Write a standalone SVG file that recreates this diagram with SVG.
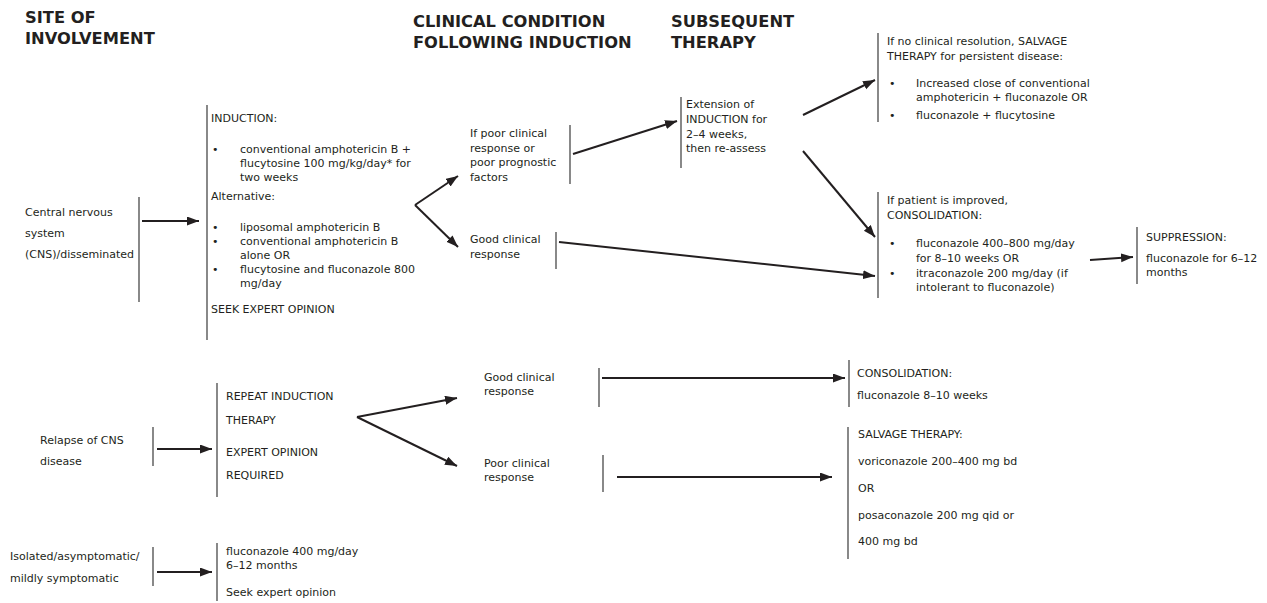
<svg xmlns="http://www.w3.org/2000/svg" width="1267" height="603" viewBox="0 0 1267 603">
<style>
  text { font-family: "DejaVu Sans", Verdana, sans-serif; font-size: 11px; fill: #231f20; }
  .hd { font-size: 16.3px; font-weight: bold; }
  .bar { stroke: #3a3a3a; stroke-width: 1.2; fill: none; }
  .arr { stroke: #231f20; stroke-width: 2; fill: none; marker-end: url(#ah); }
</style>
<defs>
  <marker id="ah" markerUnits="userSpaceOnUse" markerWidth="13" markerHeight="10" refX="12" refY="4.5" orient="auto">
    <path d="M0,0 L12,4.5 L0,9 z" fill="#231f20"/>
  </marker>
</defs>
<rect width="1267" height="603" fill="#ffffff"/>

<g id="headers">
  <text class="hd" x="25" y="23">SITE OF</text>
  <text class="hd" x="25" y="44">INVOLVEMENT</text>
  <text class="hd" x="413" y="27">CLINICAL CONDITION</text>
  <text class="hd" x="413" y="48">FOLLOWING INDUCTION</text>
  <text class="hd" x="671" y="27">SUBSEQUENT</text>
  <text class="hd" x="671" y="48">THERAPY</text>
</g>

<g id="cns">
  <text x="25" y="216">Central nervous</text>
  <text x="25" y="237">system</text>
  <text x="25" y="258">(CNS)/disseminated</text>
  <line class="bar" x1="139" y1="197" x2="139" y2="302"/>
</g>

<g id="induction">
  <line class="bar" x1="207" y1="105" x2="207" y2="340"/>
  <text x="211" y="122">INDUCTION:</text>
  <text x="212" y="153">•</text>
  <text x="240" y="153">conventional amphotericin B +</text>
  <text x="240" y="167">flucytosine 100 mg/kg/day* for</text>
  <text x="240" y="181">two weeks</text>
  <text x="211" y="200">Alternative:</text>
  <text x="212" y="231">•</text>
  <text x="240" y="231">liposomal amphotericin B</text>
  <text x="212" y="245">•</text>
  <text x="240" y="245">conventional amphotericin B</text>
  <text x="240" y="259">alone OR</text>
  <text x="212" y="273">•</text>
  <text x="240" y="273">flucytosine and fluconazole 800</text>
  <text x="240" y="287">mg/day</text>
  <text x="211" y="313">SEEK EXPERT OPINION</text>
</g>

<g id="poor-response">
  <text x="470" y="137">If poor clinical</text>
  <text x="470" y="151.5">response or</text>
  <text x="470" y="166">poor prognostic</text>
  <text x="470" y="180.5">factors</text>
  <line class="bar" x1="570" y1="125" x2="570" y2="184"/>
</g>

<g id="good-response">
  <text x="470" y="243">Good clinical</text>
  <text x="470" y="257.5">response</text>
  <line class="bar" x1="556" y1="232" x2="556" y2="269"/>
</g>

<g id="extension">
  <line class="bar" x1="681" y1="97" x2="681" y2="168"/>
  <text x="686" y="108">Extension of</text>
  <text x="686" y="123">INDUCTION for</text>
  <text x="686" y="137.5">2–4 weeks,</text>
  <text x="686" y="152">then re-assess</text>
</g>

<g id="salvage-persistent">
  <line class="bar" x1="878" y1="33" x2="878" y2="122"/>
  <text x="887" y="45">If no clinical resolution, SALVAGE</text>
  <text x="887" y="60">THERAPY for persistent disease:</text>
  <text x="889" y="87">•</text>
  <text x="916" y="87">Increased close of conventional</text>
  <text x="916" y="101">amphotericin + fluconazole OR</text>
  <text x="889" y="119">•</text>
  <text x="916" y="119">fluconazole + flucytosine</text>
</g>

<g id="consolidation">
  <line class="bar" x1="878" y1="192" x2="878" y2="298"/>
  <text x="887" y="204">If patient is improved,</text>
  <text x="887" y="218.5">CONSOLIDATION:</text>
  <text x="889" y="247">•</text>
  <text x="916" y="247">fluconazole 400–800 mg/day</text>
  <text x="916" y="261.5">for 8–10 weeks OR</text>
  <text x="889" y="276.5">•</text>
  <text x="916" y="276.5">itraconazole 200 mg/day (if</text>
  <text x="916" y="291">intolerant to fluconazole)</text>
</g>

<g id="suppression">
  <line class="bar" x1="1137" y1="227" x2="1137" y2="284"/>
  <text x="1146" y="241">SUPPRESSION:</text>
  <text x="1146" y="262">fluconazole for 6–12</text>
  <text x="1146" y="276">months</text>
</g>

<g id="relapse">
  <text x="40" y="444">Relapse of CNS</text>
  <text x="40" y="465">disease</text>
  <line class="bar" x1="153" y1="427" x2="153" y2="466"/>
</g>

<g id="repeat-induction">
  <line class="bar" x1="217" y1="383" x2="217" y2="497"/>
  <text x="226" y="400">REPEAT INDUCTION</text>
  <text x="226" y="424">THERAPY</text>
  <text x="226" y="456">EXPERT OPINION</text>
  <text x="226" y="479">REQUIRED</text>
</g>

<g id="good-response-2">
  <text x="484" y="381">Good clinical</text>
  <text x="484" y="395">response</text>
  <line class="bar" x1="599" y1="368" x2="599" y2="407"/>
</g>

<g id="poor-response-2">
  <text x="484" y="467">Poor clinical</text>
  <text x="484" y="481">response</text>
  <line class="bar" x1="603" y1="455" x2="603" y2="492"/>
</g>

<g id="consolidation-2">
  <line class="bar" x1="849" y1="360" x2="849" y2="407"/>
  <text x="857" y="377">CONSOLIDATION:</text>
  <text x="857" y="399">fluconazole 8–10 weeks</text>
</g>

<g id="salvage-2">
  <line class="bar" x1="848" y1="427" x2="848" y2="559"/>
  <text x="858" y="438">SALVAGE THERAPY:</text>
  <text x="858" y="465">voriconazole 200–400 mg bd</text>
  <text x="858" y="492">OR</text>
  <text x="858" y="519">posaconazole 200 mg qid or</text>
  <text x="858" y="545">400 mg bd</text>
</g>

<g id="isolated">
  <text x="10" y="560">Isolated/asymptomatic/</text>
  <text x="10" y="582">mildly symptomatic</text>
  <line class="bar" x1="153" y1="547" x2="153" y2="586"/>
</g>

<g id="fluconazole-400">
  <line class="bar" x1="217" y1="543" x2="217" y2="601"/>
  <text x="226" y="555">fluconazole 400 mg/day</text>
  <text x="226" y="569">6–12 months</text>
  <text x="226" y="596">Seek expert opinion</text>
</g>

<g id="connectors">
  <line class="arr" x1="142" y1="221" x2="199" y2="221"/>
  <line class="arr" x1="415" y1="205" x2="458" y2="176"/>
  <line class="arr" x1="415" y1="205" x2="458" y2="247"/>
  <line class="arr" x1="573" y1="154" x2="677" y2="121"/>
  <line class="arr" x1="803" y1="115" x2="875" y2="80"/>
  <line class="arr" x1="803" y1="151" x2="875" y2="237"/>
  <line class="arr" x1="559" y1="242" x2="875" y2="276"/>
  <line class="arr" x1="1090" y1="260" x2="1133" y2="257"/>
  <line class="arr" x1="157" y1="449" x2="212" y2="449"/>
  <line class="arr" x1="357" y1="417" x2="457" y2="398"/>
  <line class="arr" x1="357" y1="417" x2="457" y2="466"/>
  <line class="arr" x1="602" y1="378" x2="845" y2="378"/>
  <line class="arr" x1="617" y1="477" x2="832" y2="477"/>
  <line class="arr" x1="157" y1="572" x2="212" y2="572"/>
</g>
</svg>
